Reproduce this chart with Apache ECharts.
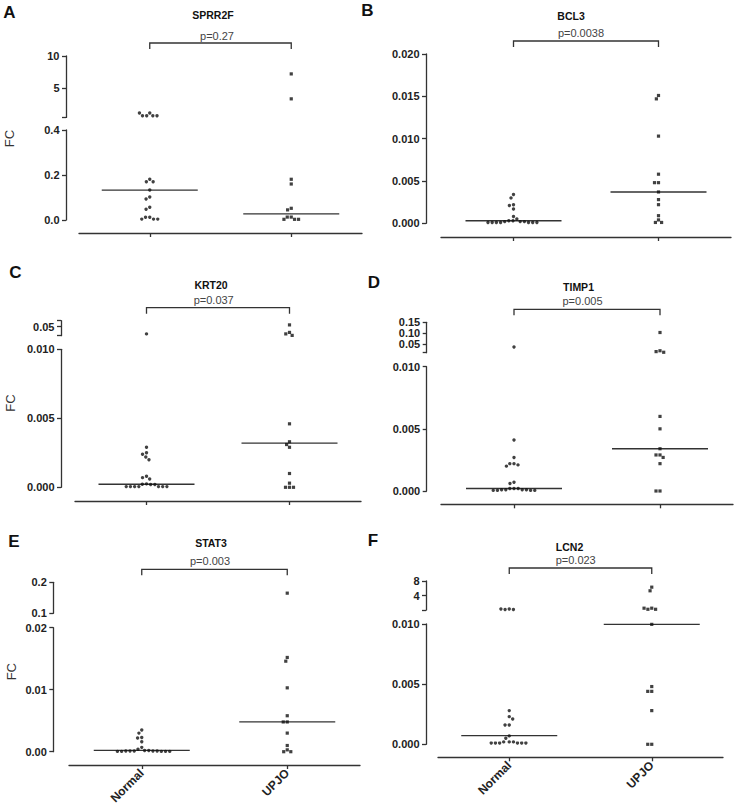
<!DOCTYPE html>
<html><head><meta charset="utf-8">
<script src="https://cdn.jsdelivr.net/npm/echarts@6/dist/echarts.min.js"></script>
<style>html,body{margin:0;padding:0;background:#fff}#c{width:735px;height:811px}</style>
</head><body><div id="c"></div>
<script>
// ---------------- DATA ----------------
const categories = ['Normal', 'UPJO'];
const genes = ['SPRR2F', 'BCL3', 'KRT20', 'TIMP1', 'STAT3', 'LCN2'];
const panelLetters = ['A', 'B', 'C', 'D', 'E', 'F'];
const pValues = ['p=0.27', 'p=0.0038', 'p=0.037', 'p=0.005', 'p=0.003', 'p=0.023'];
const yAxisName = 'FC';

// SPRR2F
const sprr2fNormal = [1.1, 0.65, 0.65, 0.65, 0.65, 1.1, 0.181, 0.17, 0.17, 0.133, 0.102, 0.093, 0.057, 0.048, 0.012, 0.012, 0.004, 0.004, 0.004];
const sprr2fUPJO = [7.2, 3.3, 0.181, 0.16, 0.052, 0.045, 0.013, 0.013, 0.003, 0.003, 0.003];
const sprr2fMedian = [0.133, 0.027];
const sprr2fLowerRange = [0, 0.4];
const sprr2fLowerTicks = [0, 0.2, 0.4];
const sprr2fUpperRange = [0.4, 10];
const sprr2fUpperTicks = [5, 10];

// BCL3
const bcl3Normal = [0.0034, 0.0030, 0.0022, 0.0021, 0.0017, 0.0008, 0.0005, 0.0003, 0.0003, 0.0002, 0.0002, 0.0002, 0.0001, 0.0001, 0.0001, 0.0001, 0.0001, 0.0001, 0.0001];
const bcl3UPJO = [0.0151, 0.0147, 0.0103, 0.0058, 0.0048, 0.0048, 0.0037, 0.0028, 0.0022, 0.0009, 0.0004, 0.0001, 0.0001];
const bcl3Median = [0.0003, 0.0037];
const bcl3LowerRange = [0, 0.02];
const bcl3LowerTicks = [0, 0.005, 0.01, 0.015, 0.02];

// KRT20
const krt20Normal = [0.026, 0.0029, 0.0025, 0.0024, 0.0022, 0.0020, 0.0008, 0.0007, 0.0006, 0.00025, 0.00022, 0.0002, 0.0002, 0.00005, 0.00005, 0.00005, 0.00005, 0.00005, 0.00005, 0.00005];
const krt20UPJO = [0.056, 0.031, 0.026, 0.021, 0.0046, 0.0033, 0.0031, 0.0029, 0.0010, 0.0003, 0, 0, 0];
const krt20Median = [0.00022, 0.0032];
const krt20LowerRange = [0, 0.01];
const krt20LowerTicks = [0, 0.005, 0.01];
const krt20UpperRange = [0.02, 0.07];
const krt20UpperTicks = [0.05];

// TIMP1
const timp1Normal = [0.036, 0.0041, 0.0027, 0.0022, 0.0022, 0.0021, 0.0020, 0.0007, 0.0006, 0.0002, 0.0002, 0.0002, 0.0001, 0.0001, 0.0001, 0.0001, 0.00005, 0.00005, 0.00005, 0.00005];
const timp1UPJO = [0.103, 0.019, 0.015, 0.012, 0.0060, 0.0050, 0.0034, 0.0029, 0.0029, 0.0027, 0.0022, 0, 0];
const timp1Median = [0.0002, 0.0034];
const timp1LowerRange = [0, 0.01];
const timp1LowerTicks = [0, 0.005, 0.01];
const timp1UpperRange = [0.01, 0.15];
const timp1UpperTicks = [0.05, 0.10, 0.15];

// STAT3
const stat3Normal = [0.0035, 0.0030, 0.0023, 0.0022, 0.0016, 0.0007, 0.0004, 0.0002, 0.0002, 0.0001, 0.0001, 0.0001, 0.0001, 0.0001, 0.00005, 0.00005, 0.00005, 0.00005, 0.00005];
const stat3UPJO = [0.165, 0.0152, 0.0146, 0.0103, 0.0058, 0.0048, 0.0048, 0.0030, 0.0010, 0.0003, 0, 0];
const stat3Median = [0.0002, 0.0048];
const stat3LowerRange = [0, 0.02];
const stat3LowerTicks = [0, 0.01, 0.02];
const stat3UpperRange = [0.1, 0.2];
const stat3UpperTicks = [0.1, 0.2];

// LCN2
const lcn2Normal = [0.3, 0.15, 0.15, 0.3, 0.0028, 0.0023, 0.0021, 0.0016, 0.0016, 0.0007, 0.0005, 0.0002, 0.0002, 0.0002, 0.0001, 0.0001, 0.0001, 0.0001, 0.0001, 0.0001];
const lcn2UPJO = [6.3, 5.3, 0.5, 0.2, 0.2, 0.5, 0.00997, 0.0048, 0.0044, 0.0044, 0.0028, 0, 0];
const lcn2Median = [0.00072, 0.00997];
const lcn2LowerRange = [0, 0.01];
const lcn2LowerTicks = [0, 0.005, 0.01];
const lcn2UpperRange = [0, 8];
const lcn2UpperTicks = [4, 8];

const panels = [
  { normal: sprr2fNormal, upjo: sprr2fUPJO, median: sprr2fMedian,
    lower: { range: sprr2fLowerRange, ticks: sprr2fLowerTicks }, upper: { range: sprr2fUpperRange, ticks: sprr2fUpperTicks } },
  { normal: bcl3Normal, upjo: bcl3UPJO, median: bcl3Median,
    lower: { range: bcl3LowerRange, ticks: bcl3LowerTicks }, upper: null },
  { normal: krt20Normal, upjo: krt20UPJO, median: krt20Median,
    lower: { range: krt20LowerRange, ticks: krt20LowerTicks }, upper: { range: krt20UpperRange, ticks: krt20UpperTicks } },
  { normal: timp1Normal, upjo: timp1UPJO, median: timp1Median,
    lower: { range: timp1LowerRange, ticks: timp1LowerTicks }, upper: { range: timp1UpperRange, ticks: timp1UpperTicks } },
  { normal: stat3Normal, upjo: stat3UPJO, median: stat3Median,
    lower: { range: stat3LowerRange, ticks: stat3LowerTicks }, upper: { range: stat3UpperRange, ticks: stat3UpperTicks } },
  { normal: lcn2Normal, upjo: lcn2UPJO, median: lcn2Median,
    lower: { range: lcn2LowerRange, ticks: lcn2LowerTicks }, upper: { range: lcn2UpperRange, ticks: lcn2UpperTicks } }
];

// ---------------- LAYOUT / STYLE ----------------
const labelDecimals = [[1, 0], [3], [3, 2], [3, 2], [2, 1], [3, 0]];
const layouts = [
  { x: 79, w: 283, yAxisX: 66, upper: [56, 117.4], lower: [130, 220], xLine: 233, letter: [9.3, 12.8], title: [213, 15], p: [217, 36], fc: [9.5, 138.5] },
  { x: 441, w: 290, yAxisX: 426, lower: [54, 223.3], xLine: 237, letter: [367.5, 10], title: [571, 16], p: [581, 33.3] },
  { x: 75, w: 286, yAxisX: 61, upper: [320.7, 335.7], lower: [349.3, 487.3], xLine: 501, letter: [15.3, 272], title: [211, 285.2], p: [213.7, 300], fc: [10.5, 403] },
  { x: 441, w: 292, yAxisX: 426.7, upper: [322.3, 352.7], lower: [366.7, 491], xLine: 504.3, letter: [374, 282], title: [578.5, 286.7], p: [582.5, 300.7] },
  { x: 69, w: 291, yAxisX: 53.3, upper: [582.3, 613.3], lower: [627.7, 751.7], xLine: 765, letter: [13.8, 541], title: [211, 543.3], p: [210, 561], fc: [11, 671.7], xLabels: true },
  { x: 438, w: 285, yAxisX: 426, upper: [581, 610], lower: [624, 744.3], xLine: 757.3, letter: [373, 540], title: [569.5, 546.7], p: [575.7, 560], xLabels: true }
];
const FONT = '"Liberation Sans", Arial, sans-serif';
const AXIS = '#333';
const LW = 1.3;
const MED_HALF = 48;
const BRACKET_GAP = 13;
const BRACKET_TICK = 6;

const grids = [], xAxes = [], yAxes = [], series = [], graphics = [];

panels.forEach((P, i) => {
  const L = layouts[i];
  const segs = [{ key: 'lower', band: L.lower, def: P.lower, dec: labelDecimals[i][0] }];
  if (P.upper) segs.push({ key: 'upper', band: L.upper, def: P.upper, dec: labelDecimals[i][1] });
  const lowerMax = P.lower.range[1];
  segs.forEach((S, si) => {
    const gi = grids.length;
    const isLower = S.key === 'lower';
    const top = S.band[0], bottom = S.band[1];
    grids.push({ left: L.x, top: top, width: L.w, height: bottom - top, outerBoundsMode: 'none', containLabel: false });
    xAxes.push({
      type: 'category', gridIndex: gi, data: categories, boundaryGap: true,
      jitter: 130, jitterOverlap: false, jitterMargin: 0.8,
      show: isLower, position: 'bottom', offset: isLower ? (L.xLine - bottom) : 0,
      axisLine: { show: true, onZero: false, lineStyle: { color: AXIS, width: LW } },
      axisTick: { show: true, alignWithLabel: true, length: 4, inside: false, lineStyle: { color: AXIS, width: LW } },
      axisLabel: { show: !!L.xLabels, rotate: 45, margin: 6, color: '#222', fontFamily: FONT, fontWeight: 'bold', fontSize: 12, interval: 0 },
      splitLine: { show: false }, splitArea: { show: false }
    });
    const mn = S.def.range[0], mx = S.def.range[1];
    const tickVals = isLower ? S.def.ticks.slice() : Array.from(new Set([mn].concat(S.def.ticks, [mx])));
    const dec = S.dec;
    yAxes.push({
      type: 'value', gridIndex: gi, min: mn, max: mx, position: 'left', offset: L.x - L.yAxisX,
      axisLine: { show: true, onZero: false, lineStyle: { color: AXIS, width: LW } },
      axisTick: { show: true, length: 4, inside: false, customValues: tickVals, lineStyle: { color: AXIS, width: LW } },
      axisLabel: { show: true, customValues: S.def.ticks, hideOverlap: false, showMinLabel: true, showMaxLabel: true,
        formatter: v => Number(v).toFixed(dec), margin: 6.5, color: '#222', fontFamily: FONT, fontWeight: 'bold', fontSize: 11 },
      splitLine: { show: false }
    });
    const inSeg = v => isLower ? v <= lowerMax : v > lowerMax;
    series.push({ type: 'scatter', xAxisIndex: gi, yAxisIndex: gi, symbol: 'circle', symbolSize: 3.4, silent: true,
      itemStyle: { color: '#111' }, data: P.normal.filter(inSeg).map(v => [categories[0], v]) });
    series.push({ type: 'scatter', xAxisIndex: gi, yAxisIndex: gi, symbol: 'rect', symbolSize: 3.2, silent: true,
      itemStyle: { color: '#111' }, data: P.upjo.filter(inSeg).map(v => [categories[1], v]) });
    const medData = P.median.map((v, k) => [categories[k], v]).filter(d => inSeg(d[1]));
    if (medData.length) {
      series.push({ type: 'custom', xAxisIndex: gi, yAxisIndex: gi, clip: false, silent: true, z: 1, data: medData,
        renderItem: (params, api) => {
          const p = api.coord([api.value(0), api.value(1)]);
          return { type: 'line', shape: { x1: p[0] - MED_HALF, y1: p[1], x2: p[0] + MED_HALF, y2: p[1] },
            style: { stroke: AXIS, lineWidth: LW } };
        } });
    }
    if (si === segs.length - 1) {
      series.push({ type: 'custom', xAxisIndex: gi, yAxisIndex: gi, clip: false, silent: true, data: [[categories[0], mx]],
        renderItem: (params, api) => {
          const a = api.coord([0, mx]), b = api.coord([1, mx]);
          const y = params.coordSys.y - BRACKET_GAP;
          return { type: 'polyline', shape: { points: [[a[0], y + BRACKET_TICK], [a[0], y], [b[0], y], [b[0], y + BRACKET_TICK]] },
            style: { stroke: AXIS, lineWidth: LW, fill: null } };
        } });
    }
  });
  graphics.push({ type: 'text', x: L.letter[0], y: L.letter[1], silent: true,
    style: { text: panelLetters[i], fill: '#111', font: 'bold 17px ' + FONT, align: 'center', verticalAlign: 'middle' } });
  graphics.push({ type: 'text', x: L.title[0], y: L.title[1], silent: true,
    style: { text: genes[i], fill: '#111', font: 'bold 10.5px ' + FONT, align: 'center', verticalAlign: 'middle' } });
  graphics.push({ type: 'text', x: L.p[0], y: L.p[1], silent: true,
    style: { text: pValues[i], fill: '#444', font: '11px ' + FONT, align: 'center', verticalAlign: 'middle' } });
  if (L.fc) {
    graphics.push({ type: 'text', x: L.fc[0], y: L.fc[1], rotation: Math.PI / 2, silent: true,
      style: { text: yAxisName, fill: '#333', font: '13px ' + FONT, align: 'center', verticalAlign: 'middle' } });
  }
});

const chart = echarts.init(document.getElementById('c'), null, { renderer: 'svg' });
chart.setOption({
  animation: false,
  backgroundColor: '#fff',
  grid: grids,
  xAxis: xAxes,
  yAxis: yAxes,
  series: series,
  graphic: graphics
});
</script>
</body></html>
